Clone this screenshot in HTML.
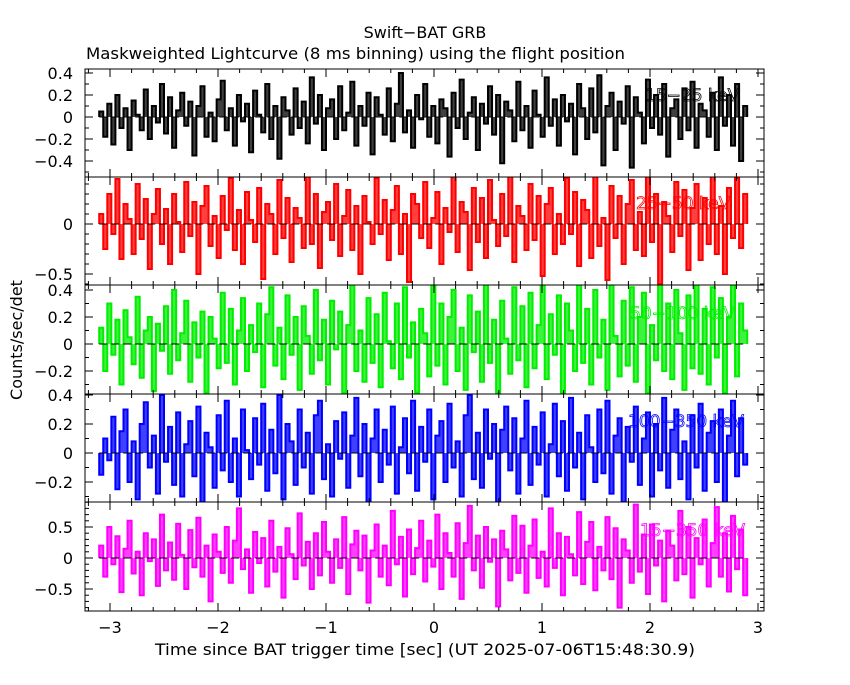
<!DOCTYPE html>
<html><head><meta charset="utf-8"><style>
html,body{margin:0;padding:0;background:#fff;}
svg text{font-family:"DejaVu Sans","Liberation Sans",sans-serif;}
</style></head><body>
<svg id="chart" width="850" height="680" viewBox="0 0 850 680" xmlns="http://www.w3.org/2000/svg">
<rect width="850" height="680" fill="#fff"/>
<text x="425" y="38" font-size="16" text-anchor="middle">Swift−BAT GRB</text>
<text x="86" y="59" font-size="16" textLength="539" lengthAdjust="spacingAndGlyphs">Maskweighted Lightcurve (8 ms binning) using the flight position</text>
<text transform="translate(22,340) rotate(-90)" font-size="16" text-anchor="middle">Counts/sec/det</text>
<text x="155" y="655" font-size="16" textLength="540" lengthAdjust="spacingAndGlyphs">Time since BAT trigger time [sec] (UT 2025-07-06T15:48:30.9)</text>
<g id="plots"></g>
</svg>
<script>
const tStart = -3.1, tEnd = 2.9;
const s1 = [0.05,-0.18,0.12,-0.25,0.2,-0.1,0.08,-0.3,0.15,0.02,-0.12,0.25,-0.2,0.1,-0.05,0.3,-0.15,0.18,-0.28,0.06,
0.22,-0.08,0.14,-0.35,0.1,0.28,-0.18,0.04,-0.22,0.16,0.33,-0.12,0.08,-0.26,0.2,-0.04,0.12,-0.32,0.24,0.02,
-0.14,0.3,-0.2,0.1,-0.38,0.18,0.06,-0.16,0.26,-0.1,0.14,-0.24,0.36,-0.06,0.2,-0.3,0.08,0.16,-0.2,0.28,
-0.12,0.04,0.32,-0.26,0.1,-0.08,0.22,-0.34,0.18,0.02,-0.16,0.26,-0.22,0.12,0.4,-0.14,0.06,-0.28,0.2,-0.02,
0.3,-0.18,0.1,-0.24,0.16,0.08,-0.36,0.22,-0.1,0.34,-0.2,0.04,0.18,-0.3,0.12,-0.06,0.28,-0.16,0.2,-0.42,
0.14,0.06,-0.22,0.32,-0.12,0.1,-0.28,0.24,0.02,-0.18,0.36,-0.08,0.16,-0.26,0.2,-0.04,0.12,-0.34,0.3,0.08,
-0.2,0.26,-0.14,0.38,-0.44,0.1,0.22,-0.3,0.14,-0.06,0.28,-0.46,0.18,0.04,-0.24,0.34,-0.1,0.2,-0.16,0.3,
-0.36,0.08,0.16,-0.2,0.26,-0.12,0.32,-0.28,0.12,0.06,-0.18,0.22,-0.3,0.36,-0.08,0.2,-0.26,0.3,-0.4,0.1];
const s2 = [0.1,-0.25,0.3,-0.1,0.45,-0.35,0.2,0.05,-0.3,0.4,-0.15,0.25,-0.45,0.1,0.35,-0.2,0.15,-0.4,0.3,0.02,
-0.28,0.42,-0.12,0.22,-0.5,0.18,0.38,-0.22,0.08,-0.34,0.28,-0.06,0.46,-0.26,0.14,-0.4,0.32,0.04,-0.18,0.36,
-0.55,0.2,0.1,-0.3,0.44,-0.14,0.26,-0.38,0.16,0.06,-0.24,0.48,-0.2,0.3,-0.44,0.12,0.22,-0.16,0.4,-0.32,
0.08,0.34,-0.26,0.18,-0.5,0.28,0.02,-0.2,0.46,-0.1,0.24,-0.36,0.14,0.38,-0.3,0.1,-0.58,0.3,0.2,-0.14,
0.42,-0.24,0.06,0.32,-0.4,0.16,-0.08,0.5,-0.28,0.22,0.12,-0.46,0.36,-0.18,0.26,-0.34,0.44,0.04,-0.22,0.3,
-0.12,0.48,-0.38,0.18,0.08,-0.26,0.4,-0.16,0.28,-0.52,0.2,0.36,-0.3,0.1,-0.2,0.46,-0.1,0.32,-0.42,0.24,
0.14,-0.34,0.5,-0.22,0.06,-0.56,0.38,-0.14,0.28,-0.4,0.2,0.44,-0.26,0.12,-0.32,0.48,-0.18,0.3,-0.6,0.22,
0.08,-0.28,0.42,-0.12,0.34,-0.46,0.16,0.4,-0.36,0.26,-0.2,0.5,-0.3,0.18,-0.5,0.36,-0.14,0.46,-0.24,0.3];
const s3 = [0.12,-0.2,0.3,-0.08,0.18,-0.3,0.25,0.05,-0.15,0.35,-0.25,0.1,0.2,-0.35,0.15,-0.05,0.28,-0.22,0.4,-0.12,
0.08,0.32,-0.28,0.16,-0.1,0.24,-0.36,0.2,0.04,-0.18,0.38,-0.14,0.26,-0.3,0.1,0.34,-0.2,0.14,-0.06,0.3,
-0.32,0.22,0.42,-0.16,0.12,-0.26,0.36,-0.08,0.2,-0.34,0.28,0.06,-0.22,0.4,-0.12,0.18,-0.3,0.32,-0.04,0.24,
-0.36,0.14,0.44,-0.2,0.1,-0.28,0.34,-0.14,0.22,-0.32,0.38,0.02,-0.18,0.3,-0.26,0.42,-0.1,0.16,-0.36,0.26,
0.08,-0.24,0.44,-0.16,0.3,-0.3,0.2,0.4,-0.2,0.12,-0.34,0.36,-0.06,0.24,-0.28,0.44,-0.14,0.18,-0.36,0.32,
0.04,-0.22,0.42,-0.12,0.28,-0.32,0.38,-0.18,0.14,0.44,-0.26,0.22,-0.08,0.36,-0.36,0.3,0.1,-0.2,0.44,-0.14,
0.26,-0.3,0.4,-0.1,0.18,-0.34,0.44,0.06,-0.24,0.32,-0.16,0.42,-0.28,0.2,0.38,-0.36,0.14,-0.12,0.44,-0.2,
0.3,-0.26,0.4,0.08,-0.34,0.36,-0.18,0.44,-0.22,0.26,-0.3,0.42,-0.1,0.34,-0.36,0.2,0.44,-0.24,0.3,0.1];
const s4 = [-0.15,0.1,-0.05,0.25,-0.25,0.15,0.3,-0.2,0.08,-0.32,0.2,0.35,-0.1,0.12,-0.28,0.4,-0.06,0.18,-0.22,0.28,
-0.3,0.06,0.22,-0.16,0.32,-0.34,0.14,0.04,-0.24,0.26,-0.12,0.36,-0.2,0.1,-0.3,0.3,0.02,-0.18,0.24,-0.08,
0.34,-0.26,0.16,-0.14,0.4,-0.32,0.2,0.08,-0.22,0.3,-0.1,0.14,-0.28,0.26,0.36,-0.18,0.06,-0.3,0.22,-0.04,
0.28,-0.24,0.12,0.38,-0.16,0.2,-0.34,0.1,0.3,-0.2,0.16,-0.08,0.32,-0.28,0.04,0.24,-0.14,0.36,-0.26,0.18,
-0.06,0.3,-0.32,0.12,0.22,-0.2,0.34,-0.1,0.08,-0.3,0.26,0.4,-0.18,0.14,-0.24,0.3,-0.04,0.2,-0.34,0.16,
0.32,-0.12,0.24,-0.28,0.1,0.36,-0.22,0.18,-0.08,0.28,-0.3,0.06,0.34,-0.16,0.22,-0.26,0.38,-0.1,0.14,-0.32,
0.26,0.04,-0.2,0.3,-0.14,0.36,-0.28,0.12,0.24,-0.34,0.18,-0.06,0.32,-0.22,0.1,0.28,-0.3,0.2,-0.12,0.38,
-0.24,0.16,0.3,-0.18,0.08,-0.32,0.26,-0.1,0.34,-0.26,0.14,0.22,-0.2,0.3,-0.34,0.12,0.36,-0.16,0.24,-0.08];
const s5 = [0.2,-0.3,0.5,-0.1,0.35,-0.55,0.15,0.6,-0.25,0.1,-0.6,0.4,-0.05,0.3,-0.45,0.7,-0.2,0.25,-0.35,0.55,
0.05,-0.5,0.45,-0.15,0.65,-0.3,0.2,-0.7,0.38,0.1,-0.24,0.5,-0.4,0.28,0.8,-0.18,0.14,-0.56,0.42,-0.08,
0.32,-0.46,0.6,-0.22,0.18,-0.64,0.48,0.06,-0.34,0.72,-0.12,0.26,-0.5,0.4,-0.28,0.58,0.1,-0.4,0.3,-0.16,
0.66,-0.58,0.22,0.44,-0.2,0.36,-0.72,0.12,0.54,-0.3,0.2,-0.44,0.76,-0.1,0.34,-0.62,0.46,-0.26,0.16,0.6,
-0.38,0.28,-0.14,0.7,-0.5,0.4,0.08,-0.3,0.56,-0.66,0.24,0.84,-0.2,0.36,-0.48,0.5,-0.06,0.3,-0.78,0.44,
0.14,-0.36,0.68,-0.24,0.52,-0.56,0.2,0.62,-0.32,0.1,-0.46,0.8,-0.16,0.4,-0.6,0.34,0.06,-0.28,0.74,-0.42,
0.26,0.58,-0.52,0.18,-0.2,0.66,-0.34,0.48,-0.8,0.3,0.12,-0.4,0.86,-0.22,0.38,-0.58,0.54,-0.12,0.28,-0.7,
0.44,0.2,-0.36,0.76,-0.26,0.5,-0.64,0.32,-0.1,0.62,-0.46,0.24,0.82,-0.3,0.4,-0.54,0.68,-0.18,0.46,-0.6];
const bandLabels = ["15−25 keV","25−50 keV","50−100 keV","100−350 keV","15−350 keV"];
const xTicks = [-3,-2,-1,0,1,2,3];
const yTickLabels1 = [0.4,0.2,0,-0.2,-0.4];
const yTickLabels2 = [0,-0.5];
const yTickLabels3 = [0.4,0.2,0,-0.2];
const yTickLabels4 = [0.4,0.2,0,-0.2];
const yTickLabels5 = [0.5,0,-0.5];

const NS = "http://www.w3.org/2000/svg";
const L = 85, R = 764;
const xScale = t => 434 + 108 * t;
const panels = [
 {data:s1,color:"#000000",top:69,bot:177,zeroY:117,ppu:110,major:0.2,minor:0.1,labels:yTickLabels1,lx:645,ly:101},
 {data:s2,color:"#ff0000",top:177,bot:285,zeroY:224,ppu:100,major:0.5,minor:0.1,labels:yTickLabels2,lx:636,ly:209},
 {data:s3,color:"#00ee00",top:285,bot:394,zeroY:344,ppu:135,major:0.2,minor:0.1,labels:yTickLabels3,lx:630,ly:319},
 {data:s4,color:"#0000ff",top:394,bot:502,zeroY:453,ppu:145,major:0.2,minor:0.1,labels:yTickLabels4,lx:628,ly:427},
 {data:s5,color:"#ff00ff",top:502,bot:611,zeroY:558,ppu:62,major:0.5,minor:0.1,labels:yTickLabels5,lx:640,ly:536}
];
const root = document.getElementById("plots");
function mk(tag, attrs){const e=document.createElementNS(NS,tag);for(const k in attrs)e.setAttribute(k,attrs[k]);return e;}

panels.forEach((p,pi)=>{
  const g = mk("g",{});
  
  
  root.appendChild(g);
  const yScale = v => p.zeroY - p.ppu * v;
  const clipId = "clip"+pi;
  const cp = mk("clipPath",{id:clipId}); cp.appendChild(mk("rect",{x:L,y:p.top,width:R-L,height:p.bot-p.top})); g.appendChild(cp);
  const lab = mk("text",{x:p.lx,y:p.ly,"font-size":"17",fill:"none",stroke:p.color,"stroke-width":"0.8"});
  lab.textContent = bandLabels[pi];
  
  
  g.appendChild(lab);
  const n = p.data.length, w = (tEnd - tStart)/n;
  let d = "M"+xScale(tStart).toFixed(2)+","+yScale(0).toFixed(2);
  for(let i=0;i<n;i++){
    const y = yScale(p.data[i]).toFixed(2);
    d += " L"+xScale(tStart+i*w).toFixed(2)+","+y+" L"+xScale(tStart+(i+1)*w).toFixed(2)+","+y;
  }
  d += " L"+xScale(tEnd).toFixed(2)+","+yScale(0).toFixed(2);
  const area = mk("path",{d:d+" Z",fill:p.color,"fill-opacity":"0.75",stroke:"none","clip-path":"url(#"+clipId+")"});
  
  
  g.appendChild(area);
  const path = mk("path",{d:d,fill:"none",stroke:p.color,"stroke-width":"2","clip-path":"url(#"+clipId+")"});
  
  
  g.appendChild(path);
  const zl = mk("line",{x1:xScale(tStart),x2:xScale(tEnd),y1:yScale(0),y2:yScale(0),stroke:"#000","stroke-width":"1","stroke-dasharray":"8,4"});
  
  
  g.appendChild(zl);
  const fr = mk("rect",{x:L,y:p.top,width:R-L,height:p.bot-p.top,fill:"none",stroke:"#000","stroke-width":"1"});
  
  
  g.appendChild(fr);
  for(let t=-3.2;t<=3.05;t+=0.2){
    const tt = Math.round(t*10)/10;
    const isMaj = Math.abs(tt-Math.round(tt))<1e-6;
    const x = xScale(tt), len = isMaj?8:4;
    g.appendChild(mk("line",{x1:x,x2:x,y1:p.top,y2:p.top+len,stroke:"#000"}));
    g.appendChild(mk("line",{x1:x,x2:x,y1:p.bot,y2:p.bot-len,stroke:"#000"}));
  }
  const vTop = (p.zeroY-p.top)/p.ppu, vBot = (p.zeroY-p.bot)/p.ppu;
  for(let k=Math.ceil(vBot/p.minor);k<=Math.floor(vTop/p.minor);k++){
    const v = k*p.minor, y = yScale(v);
    const isMaj = Math.abs(v/p.major - Math.round(v/p.major))<1e-6;
    const len = isMaj?8:4;
    g.appendChild(mk("line",{x1:L,x2:L+len,y1:y,y2:y,stroke:"#000"}));
    g.appendChild(mk("line",{x1:R,x2:R-len,y1:y,y2:y,stroke:"#000"}));
  }
  p.labels.forEach(v=>{
    const t = mk("text",{x:L-12,y:yScale(v)+6,"font-size":"16","text-anchor":"end"});
    t.textContent = v===0?"0":(v<0?"−"+Math.abs(v):String(v));
    
    
    g.appendChild(t);
  });
});
xTicks.forEach(v=>{
  const t = mk("text",{x:xScale(v),y:633,"font-size":"16","text-anchor":"middle"});
  t.textContent = v<0?"−"+Math.abs(v):String(v);
  
  
  root.appendChild(t);
});
</script>
</body></html>
